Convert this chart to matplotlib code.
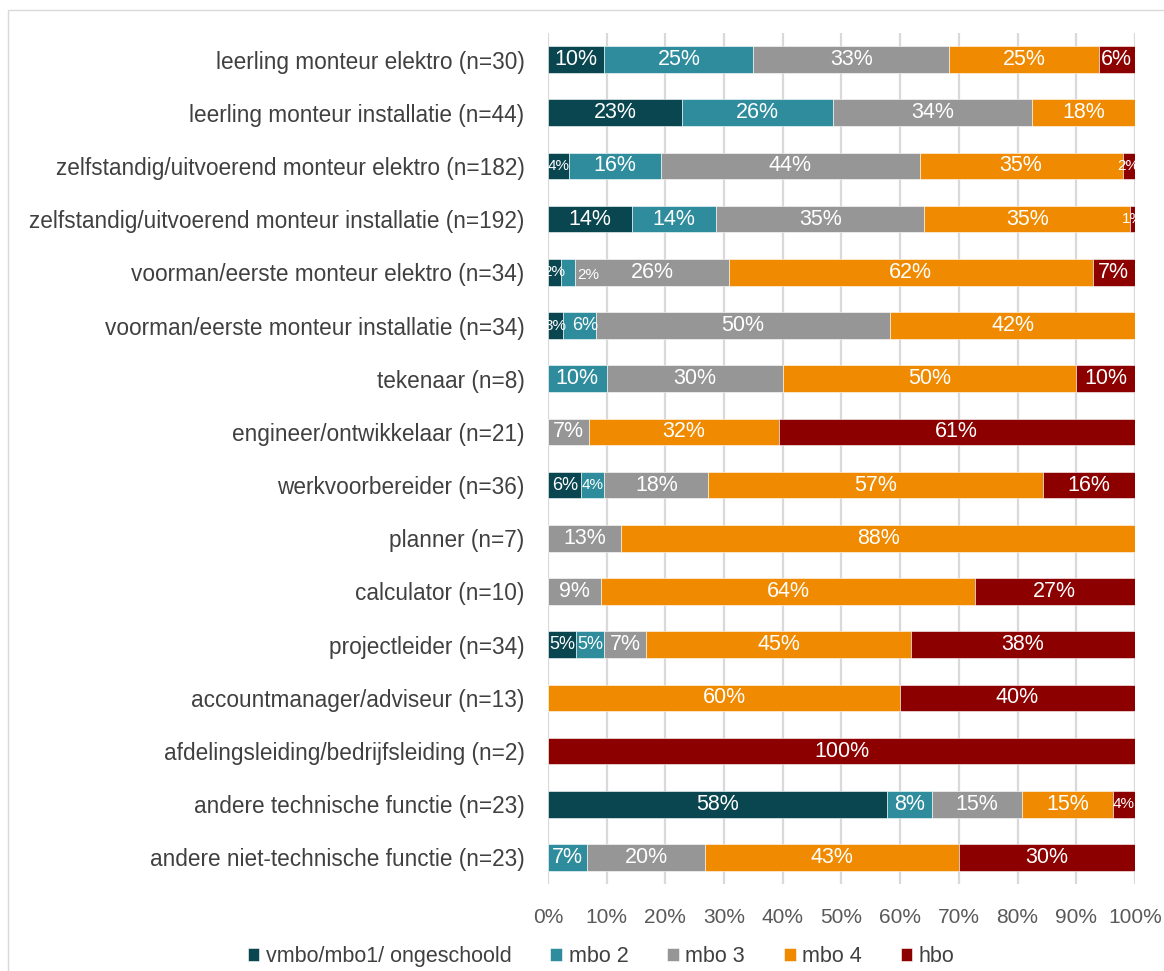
import matplotlib.pyplot as plt
from matplotlib.patches import Rectangle

# functies (top to bottom) and shares per opleidingsniveau (%)
categories = [
    'leerling monteur elektro (n=30)',
    'leerling monteur installatie (n=44)',
    'zelfstandig/uitvoerend monteur elektro (n=182)',
    'zelfstandig/uitvoerend monteur installatie (n=192)',
    'voorman/eerste monteur elektro (n=34)',
    'voorman/eerste monteur installatie (n=34)',
    'tekenaar (n=8)',
    'engineer/ontwikkelaar (n=21)',
    'werkvoorbereider (n=36)',
    'planner (n=7)',
    'calculator (n=10)',
    'projectleider (n=34)',
    'accountmanager/adviseur (n=13)',
    'afdelingsleiding/bedrijfsleiding (n=2)',
    'andere technische functie (n=23)',
    'andere niet-technische functie (n=23)',
]

vmbo = [9.6, 22.9, 3.6, 14.3, 2.2, 2.6, 0, 0, 5.7, 0, 0, 4.8, 0, 0, 57.7, 0]
mbo2 = [25.4, 25.7, 15.6, 14.4, 2.4, 5.6, 10, 0, 3.9, 0, 0, 4.8, 0, 0, 7.7, 6.7]
mbo3 = [33.4, 33.8, 44.1, 35.4, 26.2, 50.1, 30, 7.0, 17.7, 12.5, 9.1, 7.1, 0, 0, 15.4, 20.0]
mbo4 = [25.4, 17.6, 34.6, 35.1, 62.0, 41.7, 50, 32.3, 57.0, 87.5, 63.6, 45.2, 60, 0, 15.4, 43.3]
hbo = [6.2, 0, 2.1, 0.8, 7.2, 0, 10, 60.7, 15.7, 0, 27.3, 38.1, 40, 100, 3.8, 30.0]

series = ['vmbo/mbo1/ ongeschoold', 'mbo 2', 'mbo 3', 'mbo 4', 'hbo']
colors = ['#0a4650', '#2e8c9d', '#969696', '#f08a00', '#8c0000']

plt.rcParams['font.family'] = ['Liberation Sans', 'DejaVu Sans']

fig = plt.figure(figsize=(11.64, 9.71), dpi=100)
ax = fig.add_axes([0.4708, 0.0896, 0.5042, 0.8764])

y = list(range(len(categories)))
left = [0.0] * len(categories)
for si, (name, vals, col) in enumerate(zip(series, [vmbo, mbo2, mbo3, mbo4, hbo], colors)):
    bars = ax.barh(y, vals, left=left, height=0.5, color=col, label=name,
                   edgecolor='white', linewidth=0.4, zorder=3)
    for ri, (b, v, l) in enumerate(zip(bars, vals, left)):
        if v <= 0:
            continue
        fs = 11 if v < 4 else (13 if v < 6 else 15.5)
        yc = b.get_y() + b.get_height() / 2
        txt = f'{int(v + 0.5)}%'
        if (ri, si) == (4, 1):
            # crowded label pushed just past its segment, as in the original
            ax.text(l + v + 0.3, yc + 0.05, txt, ha='left', va='center',
                    color='white', fontsize=fs, zorder=4)
        elif (ri, si) == (5, 1):
            ax.text(l + v / 2 + 0.9, yc, txt, ha='center', va='center',
                    color='white', fontsize=fs, zorder=4)
        else:
            ax.text(l + v / 2, yc, txt, ha='center', va='center',
                    color='white', fontsize=fs, zorder=4)
    left = [a + b for a, b in zip(left, vals)]

ax.set_xlim(0, 100)
ax.set_ylim(len(categories) - 0.5, -0.5)
ax.set_yticks(y)
ax.set_yticklabels(categories, fontsize=16.3, color='#404040')
ax.set_xticks(range(0, 101, 10))
ax.set_xticklabels([f'{t}%' for t in range(0, 101, 10)], fontsize=15, color='#595959')
ax.tick_params(length=0)
ax.tick_params(axis='y', pad=17)
ax.tick_params(axis='x', pad=17)
ax.grid(axis='x', color='#d9d9d9', linewidth=1.6, zorder=0)
for s in ax.spines.values():
    s.set_visible(False)

leg = fig.legend(loc='lower left', bbox_to_anchor=(0.196, -0.016), ncol=5, frameon=False,
                 fontsize=15.5, handlelength=0.55, handleheight=0.55,
                 handletextpad=0.3, columnspacing=1.8)
for t in leg.get_texts():
    t.set_color('#404040')

fig.patches.append(Rectangle((0.007, -0.01), 1.0, 0.9997,
                             transform=fig.transFigure, fill=False,
                             edgecolor='#d9d9d9', linewidth=1.0))

fig.savefig('out.png', dpi=100)
